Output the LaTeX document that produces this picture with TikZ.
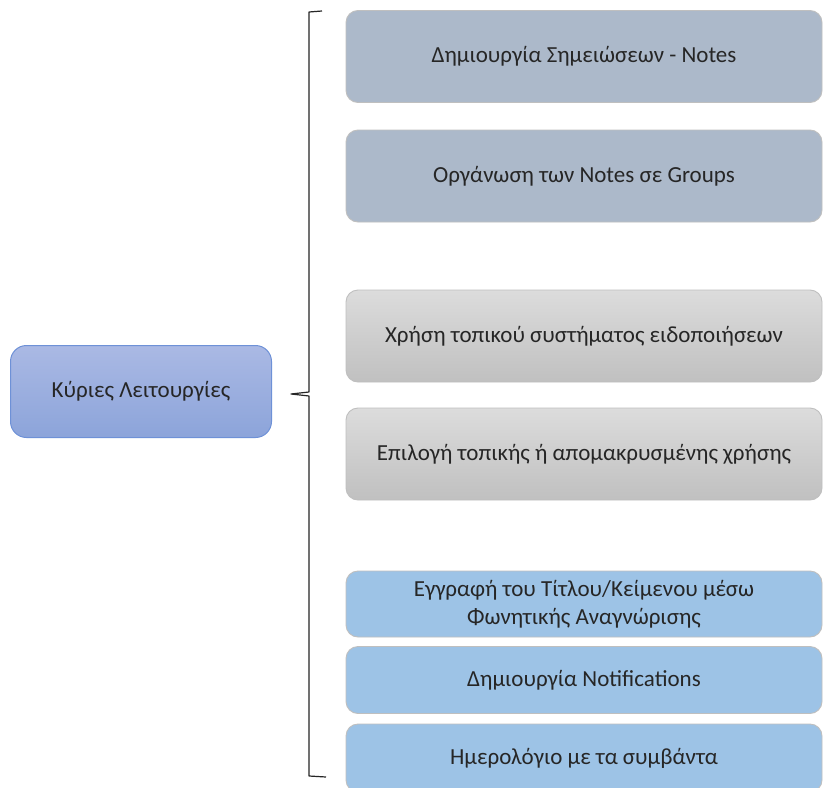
\documentclass[tikz,border=0pt]{standalone}
\usepackage{fontspec}
\setmainfont{Carlito}
\begin{document}
\begin{tikzpicture}[x=1pt,y=-1pt,
  every node/.style={font=\fontsize{23}{28}\selectfont, text=black!85, align=center, inner sep=0pt},
  item/.style={rounded corners=12pt, draw=black!25, line width=0.9pt, minimum width=476pt},
  notebox/.style={item, fill={rgb,255:red,172;green,185;blue,202}},
  localbox/.style={item, top color={rgb,255:red,220;green,220;blue,220}, bottom color={rgb,255:red,192;green,192;blue,192}},
  extrabox/.style={item, fill={rgb,255:red,157;green,195;blue,230}},
  mainbox/.style={rounded corners=16pt, draw={rgb,255:red,110;green,145;blue,215}, line width=1pt,
    top color={rgb,255:red,170;green,185;blue,228}, bottom color={rgb,255:red,140;green,164;blue,218},
    minimum width=261pt, minimum height=92pt}]
\useasboundingbox (0,0) rectangle (824,787);
\fill[white] (0,0) rectangle (824,787);

\node[mainbox] (main) at (141,391.5) {Κύριες Λειτουργίες};

\node[notebox, minimum height=92pt] (n1) at (584,56.5) {Δημιουργία Σημειώσεων - Notes};
\node[notebox, minimum height=92pt] (n2) at (584,176) {Οργάνωση των Notes σε Groups};
\node[localbox, minimum height=92pt] (n3) at (584,336) {Χρήση τοπικού συστήματος ειδοποιήσεων};
\node[localbox, minimum height=92pt] (n4) at (584,454) {Επιλογή τοπικής ή απομακρυσμένης χρήσης};
\node[extrabox, minimum height=66pt] (n5) at (584,604) {Εγγραφή του Τίτλου/Κείμενου μέσω\\Φωνητικής Αναγνώρισης};
\node[extrabox, minimum height=67pt] (n6) at (584,680) {Δημιουργία Notifications};
\node[extrabox, minimum height=68pt] (n7) at (584,758) {Ημερολόγιο με τα συμβάντα};

% left brace gathering the functions
\coordinate (bt) at (322,11);
\coordinate (bb) at (326,777);
\coordinate (tip) at (291,394);
\draw[line width=1.2pt, black!85, line join=round]
  (bt) -- (309,12) -- (309,392) -- (tip) -- (309,396) -- (309,776) -- (bb);
\end{tikzpicture}
\end{document}
